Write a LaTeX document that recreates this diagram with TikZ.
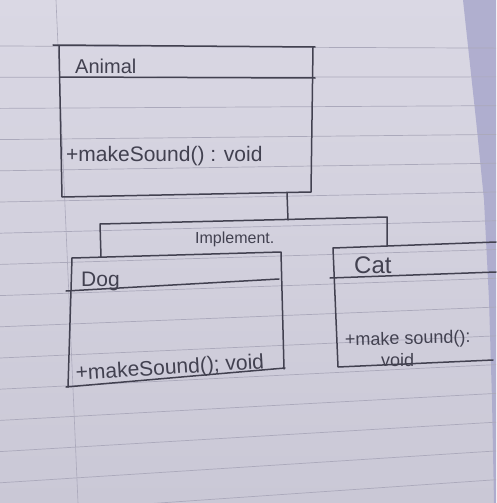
\documentclass[tikz,border=0pt]{standalone}
\usepackage{fontspec}
\setmainfont{Liberation Sans}
\usetikzlibrary{calc}
\definecolor{paperTop}{HTML}{DAD8E4}
\definecolor{paperBot}{HTML}{CAC8D6}
\definecolor{ruling}{HTML}{ABA9BB}
\definecolor{pencil}{HTML}{424150}
\definecolor{underpage}{HTML}{A9A8CC}
\begin{document}
\begin{tikzpicture}[x=1pt,y=-1pt,
  pencil/.style={draw=pencil, line width=1.5pt, line cap=round, line join=round},
  hand/.style={text=pencil, inner sep=0pt, anchor=base west},
  ruleline/.style={draw=ruling, line width=0.7pt}]
\useasboundingbox (0,0) rectangle (496,503);

% sheet of lined paper
\fill[top color=paperTop, bottom color=paperBot] (0,0) rectangle (496,503);
\fill[underpage, opacity=0.85] (463,0) -- (476,120) -- (484,200) -- (489,300)
  -- (492,400) -- (494,503) -- (496,503) -- (496,0) -- cycle;
\foreach \k in {0,...,15}{
  \pgfmathsetmacro{\yl}{46+31.2*\k}
  \pgfmathsetmacro{\yr}{48+28.9*\k}
  \draw[ruleline] (0,\yl) -- (496,{\yr+(\yr-\yl)*0.0553});
}
\draw[ruling, line width=0.6pt] (56,0) -- (78,503);

% Animal class
\coordinate (animal-tl) at (59,46);
\coordinate (animal-tr) at (313,47);
\coordinate (animal-br) at (311,192);
\coordinate (animal-bl) at (62,197);
\draw[pencil] (53,45) -- (315,47);
\draw[pencil] (animal-tl) -- (animal-bl) -- (animal-br) -- (animal-tr);
\draw[pencil] (60,77) -- (315,78);
\node[hand, font=\fontsize{20}{20}\selectfont] (animal-name) at (75,74) {Animal};
\node[hand, font=\fontsize{21}{21}\selectfont] (animal-op) at (66,161) {+makeSound() : void};

% Dog class
\coordinate (dog-tl) at (72,258);
\coordinate (dog-tr) at (281,252);
\coordinate (dog-br) at (284,369);
\coordinate (dog-bl) at (68,387);
\draw[pencil] (dog-tl) -- (dog-tr) -- (dog-br);
\draw[pencil] (dog-tl) -- (dog-bl);
\draw[pencil] (66,387) -- (285,368);
\draw[pencil] (66,291) -- (279,279);
\node[hand, font=\fontsize{21}{21}\selectfont] (dog-name) at (81,286) {Dog};
\node[hand, font=\fontsize{21}{21}\selectfont, rotate=3.5] (dog-op) at (76,380) {+makeSound(); void};

% Cat class
\coordinate (cat-tl) at (333,248);
\coordinate (cat-bl) at (338,367);
\draw[pencil] (cat-tl) -- (496,242);
\draw[pencil] (cat-tl) -- (cat-bl) -- (493,360);
\draw[pencil] (330,278) -- (496,272);
\node[hand, font=\fontsize{24}{24}\selectfont] (cat-name) at (354,273) {Cat};
\node[hand, font=\fontsize{18}{18}\selectfont, rotate=1.5] (cat-op1) at (345,346) {+make sound():};
\node[hand, font=\fontsize{18}{18}\selectfont] (cat-op2) at (381,366) {void};

% implementation connector
\coordinate (animal-s) at (287,193);
\coordinate (bus-m) at (288,220);
\coordinate (bus-l) at (100,224);
\coordinate (bus-r) at (387,217);
\coordinate (dog-n) at (101,257);
\coordinate (cat-n) at (387,246);
\draw[pencil] (animal-s) -- (bus-m);
\draw[pencil] (dog-n) -- (bus-l) -- (bus-r) -- (cat-n);
\node[hand, font=\fontsize{16}{16}\selectfont] (impl) at (195,243) {Implement.};
\end{tikzpicture}
\end{document}
